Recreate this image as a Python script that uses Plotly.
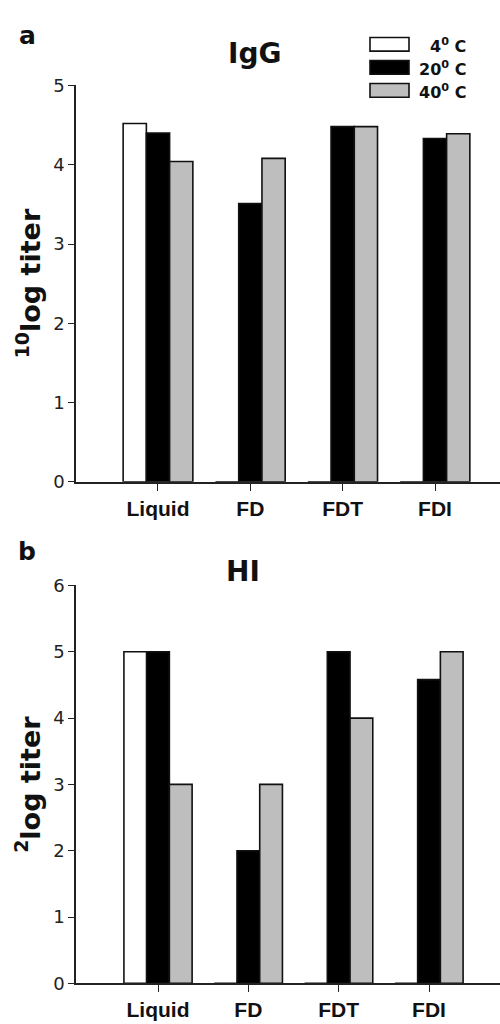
import plotly.graph_objects as go

categories = ["Liquid", "FD", "FDT", "FDI"]
series_names = ["4<sup>0</sup> C", "20<sup>0</sup> C", "40<sup>0</sup> C"]
igg_4c = [4.52, 0, 0, 0]
igg_20c = [4.40, 3.51, 4.48, 4.33]
igg_40c = [4.04, 4.08, 4.48, 4.39]
hi_4c = [5, 0, 0, 0]
hi_20c = [5, 2, 5, 4.58]
hi_40c = [3, 3, 4, 5]
igg_ticks = [0, 1, 2, 3, 4, 5]
hi_ticks = [0, 1, 2, 3, 4, 5, 6]

fills = ["#ffffff", "#000000", "#bebebe"]
W, H = 500, 1024
FONT = "Liberation Sans, Arial, sans-serif"
DJ = "DejaVu Sans, sans-serif"

fig = go.Figure()
for vals, col, name in zip([igg_4c, igg_20c, igg_40c], fills, series_names):
    fig.add_trace(go.Bar(x=categories, y=vals, name=name, marker=dict(color=col, line=dict(color="#111", width=1.6)),
                         xaxis="x", yaxis="y", showlegend=False))
for vals, col, name in zip([hi_4c, hi_20c, hi_40c], fills, series_names):
    fig.add_trace(go.Bar(x=categories, y=vals, name=name, marker=dict(color=col, line=dict(color="#111", width=1.6)),
                         xaxis="x2", yaxis="y2", showlegend=False))

def px_x(p):
    return p / W

def px_y(p):
    return 1 - p / H

axis_common = dict(showline=True, linecolor="#222", linewidth=1.6, ticks="outside", tickcolor="#222",
                   tickwidth=1.4, showgrid=False, zeroline=False)
cat_font = dict(size=21, family=FONT, color="#111", weight="bold")
num_font = dict(size=18, family=DJ, color="#222")

fig.update_layout(
    width=W, height=H, margin=dict(l=0, r=0, t=0, b=0),
    plot_bgcolor="white", paper_bgcolor="white",
    barmode="group", bargap=0.245, bargroupgap=0,
    font=dict(family=FONT, color="#222"),
    xaxis=dict(domain=[px_x(76), 1], range=[-0.888, 3.704], anchor="y", ticklen=7,
               tickfont=cat_font, **axis_common),
    yaxis=dict(domain=[px_y(480.7), px_y(76)], range=[0, 5], anchor="x", ticklen=6,
               tickvals=igg_ticks, tickfont=num_font, **axis_common),
    xaxis2=dict(domain=[px_x(76), 1], range=[-0.908, 3.786], anchor="y2", ticklen=7,
                tickfont=cat_font, **axis_common),
    yaxis2=dict(domain=[px_y(992.7), px_y(586.5)], range=[0, 6], anchor="x2", ticklen=6,
                tickvals=hi_ticks, tickfont=num_font, **axis_common),
)

ann = []
ann.append(dict(text="<b>a</b>", x=px_x(27), y=px_y(25), font=dict(size=25, family=DJ, color="#111")))
ann.append(dict(text="<b>b</b>", x=px_x(27), y=px_y(552), font=dict(size=25, family=DJ, color="#111")))
ann.append(dict(text="<b>IgG</b>", x=px_x(254), y=px_y(43), font=dict(size=28, family=DJ, color="#111")))
ann.append(dict(text="<b>HI</b>", x=px_x(243), y=px_y(572), font=dict(size=28, family=DJ, color="#111")))
ann.append(dict(text="<b><sup>10</sup>log titer</b>", x=px_x(28), y=px_y(278), textangle=-90,
                font=dict(size=27, family=DJ, color="#111")))
ann.append(dict(text="<b><sup>2</sup>log titer</b>", x=px_x(28), y=px_y(790), textangle=-90,
                font=dict(size=27, family=DJ, color="#111")))

shapes = []
rows = [34, 57.5, 81]
for r, col, name in zip(rows, fills, series_names):
    shapes.append(dict(type="rect", xref="paper", yref="paper", x0=px_x(370), x1=px_x(409),
                       y0=px_y(r + 7), y1=px_y(r - 7), fillcolor=col, line=dict(color="#111", width=1.6)))
    ann.append(dict(text="<b>" + name + "</b>", x=px_x(468), y=px_y(r + 1), xanchor="right",
                    font=dict(size=16, family=DJ, color="#111")))

for a in ann:
    a.setdefault("xref", "paper")
    a.setdefault("yref", "paper")
    a.setdefault("showarrow", False)
    a.setdefault("xanchor", "center")
    a.setdefault("yanchor", "middle")

fig.update_layout(annotations=ann, shapes=shapes)
fig.write_html("out.html", config={"displayModeBar": False},
               post_script="document.body.style.margin='0';document.body.style.overflow='hidden';")
